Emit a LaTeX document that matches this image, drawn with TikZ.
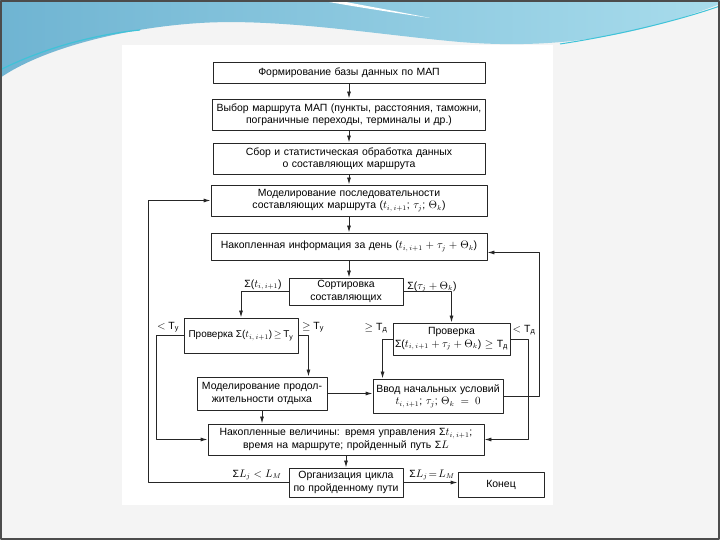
\documentclass[tikz,border=0pt]{standalone}
\usepackage{amsmath}
\usepackage{fontspec}
\setmainfont{Liberation Sans}
\usetikzlibrary{positioning,arrows.meta}
\newcommand{\bx}{\fontsize{10.5}{12.5}\selectfont}
\newcommand{\sbx}{\fontsize{10}{12}\selectfont}
\definecolor{slidegray}{HTML}{F4F4F4}
\definecolor{waveleft}{HTML}{6FB4D2}
\definecolor{waveright}{HTML}{A8DCEC}
\definecolor{wavecyan}{HTML}{3FC3D8}

\begin{document}
\begin{tikzpicture}[>={Latex[length=7bp,width=4bp]},line join=bevel,
  box/.style={draw=black!85,line width=0.9bp,align=center,inner xsep=2bp,inner ysep=1bp,font=\bx},
  lbl/.style={font=\bx,inner sep=1bp},
  link/.style={draw=black!85,line width=0.9bp,->}]
%% slide
\useasboundingbox (0bp,0bp) rectangle (720bp,540bp);
\fill [slidegray] (0bp,0bp) rectangle (720bp,540bp);
\fill [white] (122bp,35bp) rectangle (553bp,495bp);
\shade [left color=waveleft,right color=waveright] (0bp,540bp) -- (720bp,540bp) -- (720bp,536bp)
  .. controls (640bp,505bp) and (560bp,490bp) .. (460bp,498bp)
  .. controls (380bp,505bp) and (280bp,522bp) .. (200bp,517bp)
  .. controls (120bp,512bp) and (40bp,490bp) .. (0bp,462bp) -- cycle;
\fill [white] (318bp,540bp) .. controls (350bp,534bp) and (390bp,528bp) .. (430bp,522bp)
  .. controls (390bp,530bp) and (355bp,536bp) .. (336bp,540bp) -- cycle;
\draw [wavecyan,line width=1.2bp] (0bp,470bp) .. controls (40bp,490bp) and (90bp,505bp) .. (140bp,510bp);
\draw [wavecyan,line width=1bp] (560bp,496bp) .. controls (620bp,505bp) and (680bp,520bp) .. (720bp,534bp);
\draw [black!70,line width=2bp] (1bp,1bp) rectangle (719bp,539bp);
%% flowchart
\node (form) at (349bp,467.5bp) [box,text width=268bp,minimum height=21bp] {Формирование базы данных по МАП};
  \node (route) at (349bp,425.5bp) [box,text width=269bp,minimum height=31bp] {Выбор маршрута МАП (пункты, расстояния, таможни,\\ пограничные переходы, терминалы и др.)};
  \node (collect) at (349bp,381.5bp) [box,text width=268bp,minimum height=31bp] {Сбор и статистическая обработка данных\\ о составляющих маршрута};
  \node (model) at (349bp,339.5bp) [box,text width=272bp,minimum height=31bp] {Моделирование последовательности\\ составляющих маршрута ($t_{i,\,i+1}$; $\tau_j$; $\Theta_k$)};
  \node (daily) at (349bp,293.5bp) [box,text width=272bp,minimum height=27bp] {Накопленная информация за день ($t_{i,\,i+1}+\tau_j+\Theta_k$)};
  \node (sort) at (346bp,248.5bp) [box,text width=110bp,minimum height=27bp] {Сортировка\\ составляющих};
  \node (checkT) at (241bp,204.5bp) [box,font=\sbx,inner xsep=1bp,minimum width=114bp,minimum height=35bp] {Проверка Σ($t_{i,\,i+1}$)\,$\geq$\,T\textsubscript{у}};
  \node (checkD) at (451.5bp,201bp) [box,text width=113bp,minimum height=32bp] {Проверка\\ Σ($t_{i,\,i+1}+\tau_j+\Theta_k$) $\geq$ T\textsubscript{д}};
  \node (rest) at (262bp,146.5bp) [box,text width=126bp,minimum height=33bp] {Моделирование продол-\\жительности отдыха};
  \node (init) at (438bp,144bp) [box,text width=126bp,minimum height=34bp] {Ввод начальных условий\\ $t_{i,\,i+1}$; $\tau_j$; $\Theta_k=0$};
  \node (accum) at (346bp,100.5bp) [box,text width=272bp,minimum height=31bp] {Накопленные величины: время управления Σ$t_{i,\,i+1}$;\\ время на маршруте; пройденный путь Σ$L$};
  \node (cycle) at (346bp,57.5bp) [box,text width=110bp,minimum height=29bp] {Организация цикла\\ по пройденному пути};
  \node (finish) at (501bp,55.5bp) [box,text width=82bp,minimum height=25bp] {Конец};
%
\node (lblSumT) at (263bp,255bp) [lbl] {Σ($t_{i,\,i+1}$)};
  \node (lblSumTau) at (432bp,253bp) [lbl] {Σ($\tau_j+\Theta_k$)};
  \node (lblLessTy) at (168bp,213bp) [lbl] {$<$ T\textsubscript{у}};
  \node (lblGeTy) at (313bp,213bp) [lbl] {$\geq$ T\textsubscript{у}};
  \node (lblGeTd) at (376bp,212bp) [lbl] {$\geq$ T\textsubscript{д}};
  \node (lblLessTd) at (524bp,210bp) [lbl] {$<$ T\textsubscript{д}};
  \node (lblLoop) at (257bp,65bp) [lbl] {Σ$L_j<L_M$};
  \node (lblDone) at (432bp,65bp) [lbl] {Σ$L_j\!=\!L_M$};
%
\draw [link] (form.south) -- (form.south |- route.north);
  \draw [link] (route.south) -- (route.south |- collect.north);
  \draw [link] (collect.south) -- (collect.south |- model.north);
  \draw [link] (model.south) -- (model.south |- daily.north);
  \draw [link] (daily.south) -- (daily.south |- sort.north);
  \draw [link] (sort.west) -| (checkT.north);
  \draw [link] (sort.east) -| (checkD.north);
  \draw [link] (checkT.west) -- ++(-27bp,0) |- (accum.west);
  \draw [link] (checkT.east) -- ++(10bp,0) coordinate (geTy) -- (geTy |- rest.north);
  \draw [link] (checkD.west) -- ++(-10bp,0) coordinate (geTd) -- (geTd |- init.north);
  \draw [link] (checkD.east) -- ++(18bp,0) |- (accum.east);
  \draw [link] (rest.east) -- (rest.east -| init.west);
  \draw [link] (rest.south) -- (rest.south |- accum.north);
  \draw [link] (init.east) -- ++(36bp,0) |- ([yshift=-6bp]daily.east);
  \draw [link] (accum.south) -- (accum.south |- cycle.north);
  \draw [link] (cycle.west) -- ++(-140bp,0) |- (model.west);
  \draw [link] (cycle.east) -- (cycle.east -| finish.west);
%
\end{tikzpicture}
\end{document}
